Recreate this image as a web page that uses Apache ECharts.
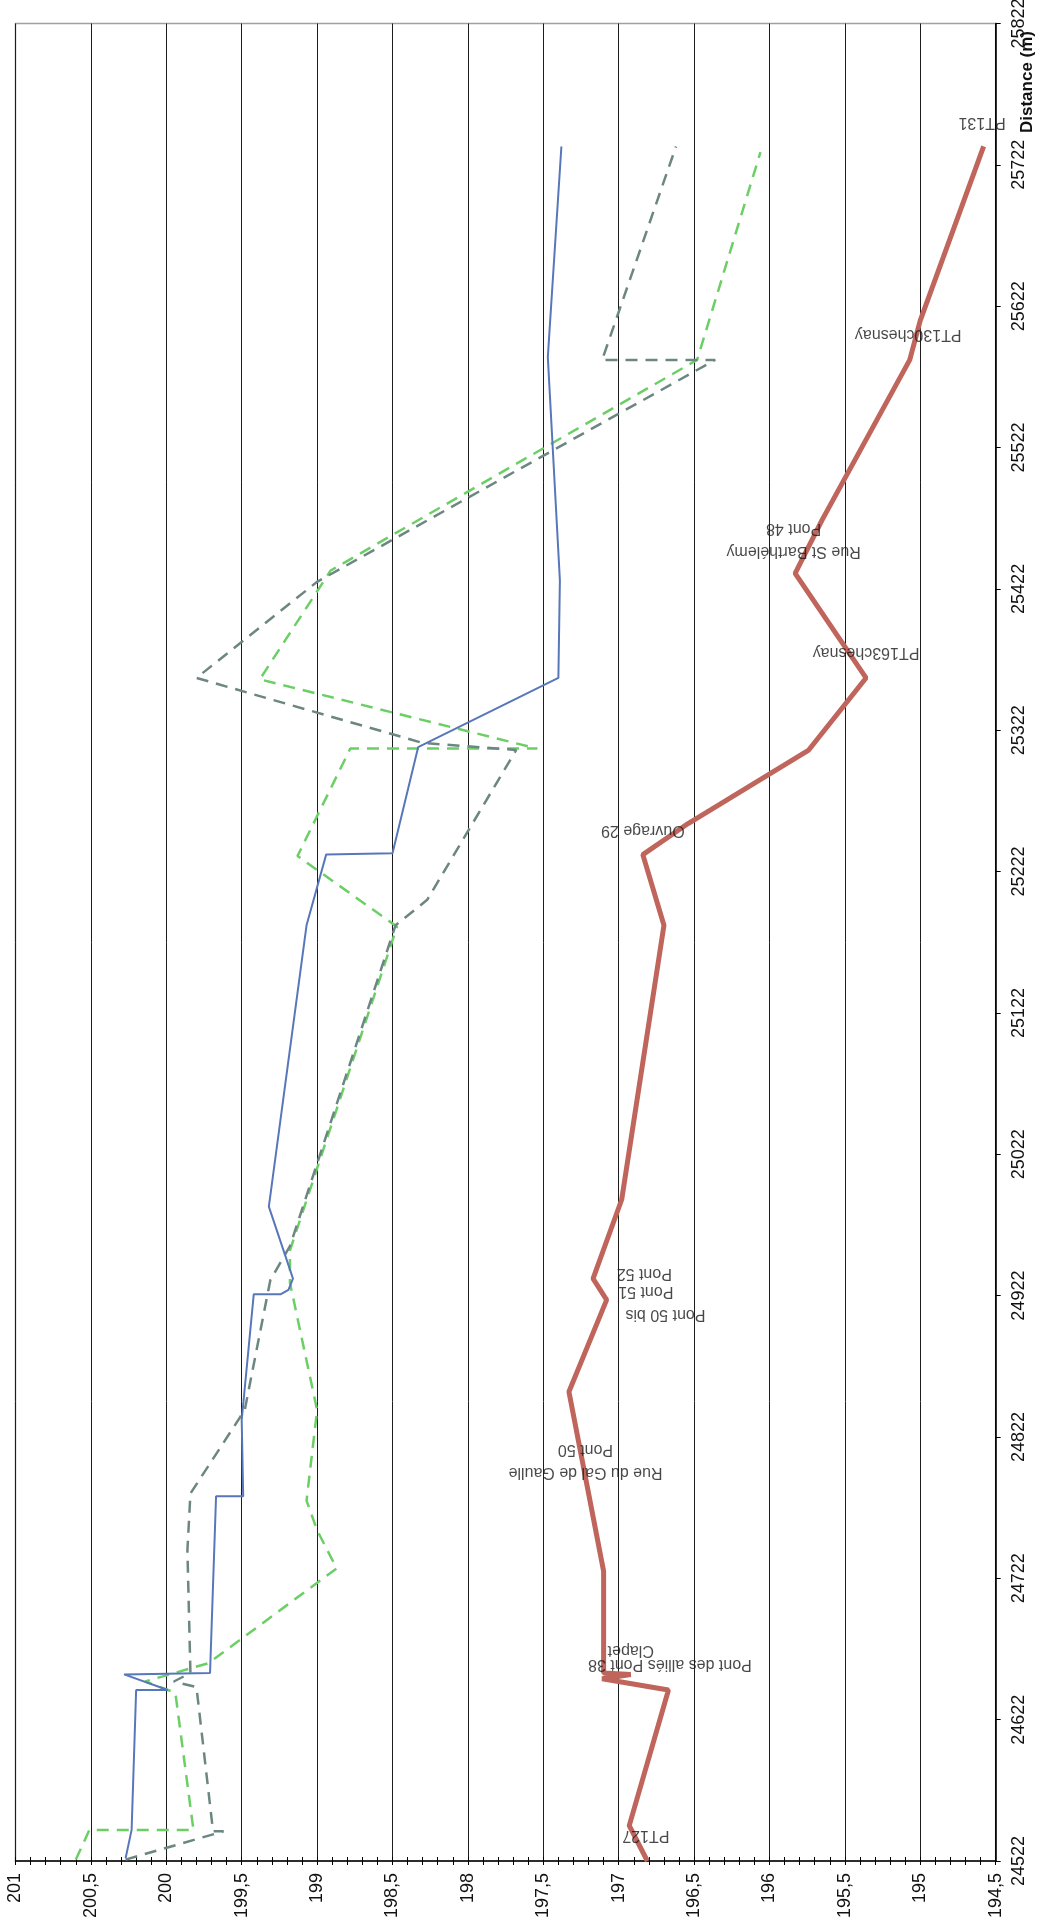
<!DOCTYPE html>
<html>
<head>
<meta charset="utf-8">
<script src="https://cdn.jsdelivr.net/npm/echarts@6/dist/echarts.min.js"></script>
<style>
  html, body { margin: 0; padding: 0; background: #ffffff; }
  #chart { width: 1045px; height: 1920px; }
</style>
</head>
<body>
<div id="chart"></div>
<script>
// Profil en long — distances (m) et cotes (m NGF)

// Axe des distances
const distMin = 24522;
const distMax = 25822;
const distStep = 100;
// Axe des cotes
const elevMin = 194.5;
const elevMax = 201;
const elevStep = 0.5;

// Radier (trait rouge épais)
const radierDist = [24522, 24547, 24643, 24651, 24654, 24655, 24727, 24854, 24919, 24934, 24990, 25184, 25234, 25256, 25308, 25359, 25433, 25471, 25584, 25612, 25735];
const radierElev = [196.81, 196.93, 196.67, 197.11, 196.92, 197.10, 197.10, 197.33, 197.08, 197.17, 196.98, 196.70, 196.84, 196.54, 195.74, 195.36, 195.83, 195.65, 195.07, 195.00, 194.58];

// Ligne bleue
const bleuDist = [24524, 24544, 24643, 24643, 24654, 24655, 24780, 24780, 24834, 24923, 24923, 24926, 24934, 24985, 25184, 25234, 25235, 25310, 25359, 25428, 25586, 25735];
const bleuElev = [200.27, 200.23, 200.20, 199.99, 200.28, 199.71, 199.67, 199.49, 199.50, 199.42, 199.24, 199.19, 199.16, 199.32, 199.07, 198.94, 198.50, 198.33, 197.40, 197.39, 197.47, 197.38];

// Ligne grise en tirets
const griseDist = [24523, 24543, 24543, 24645, 24649, 24655, 24742, 24782, 24841, 24933, 24957, 25184, 25202, 25308, 25313, 25359, 25427, 25584, 25584, 25735];
const griseElev = [200.27, 199.62, 199.69, 199.80, 199.95, 199.84, 199.86, 199.84, 199.48, 199.31, 199.18, 198.48, 198.27, 197.68, 198.30, 199.80, 199.00, 196.36, 197.11, 196.62];

// Ligne verte en tirets
const verteDist = [24523, 24544, 24544, 24641, 24649, 24662, 24729, 24756, 24777, 24841, 24931, 24954, 25183, 25233, 25309, 25309, 25358, 25435, 25584, 25731];
const verteElev = [200.60, 200.51, 199.82, 199.94, 200.14, 199.72, 198.87, 199.00, 199.07, 199.00, 199.18, 199.18, 198.47, 199.13, 198.78, 197.54, 199.38, 198.91, 196.48, 196.06];

// Repères (ouvrages, points topographiques)
const repereNoms = ['PT131', 'PT130chesnay', 'Rue St Barthélemy\nPont 48', 'PT163chesnay', 'Ouvrage 29', 'Pont 52', 'Pont 51', 'Pont 50 bis', 'Rue du Gal de Gaulle\nPont 50', 'Clapet', 'Pont des alliés Pont 38', 'PT127'];
const repereDist = [25752, 25602, 25457, 25377, 25251, 24938, 24925, 24909, 24805, 24671, 24661, 24540];
const repereElev = [194.59, 195.08, 195.84, 195.36, 196.84, 196.83, 196.82, 196.69, 197.22, 196.92, 196.66, 196.82];

const pairs = (elev, dist) => elev.map((v, i) => [v, dist[i]]);

const narrowFont = "'Liberation Sans Narrow', 'Arial Narrow', 'Liberation Sans', Arial, sans-serif";
const fmtComma = v => String(+v.toFixed(2)).replace('.', ',');
const fmtPlain = v => String(Math.round(v));

const chart = echarts.init(document.getElementById('chart'), null, { renderer: 'canvas' });

const option = {
  backgroundColor: '#ffffff',
  animation: false,
  grid: {
    left: 15.5, right: 49.3, top: 23.5, bottom: 59,
    show: true, borderColor: '#a0a0a0', borderWidth: 1.5,
    containLabel: false, outerBoundsMode: 'none'
  },
  xAxis: [
    {
      type: 'value', position: 'bottom', inverse: true,
      min: elevMin, max: elevMax, interval: elevStep,
      axisLine: { show: true, onZero: false, lineStyle: { color: '#000', width: 1.5 } },
      axisTick: { show: true, inside: false, length: 4, lineStyle: { color: '#000', width: 1 } },
      minorTick: { show: true, splitNumber: 5, length: 4, lineStyle: { color: '#000', width: 1 } },
      axisLabel: {
        rotate: 90, margin: 12, color: '#111', fontSize: 18, fontFamily: narrowFont,
        formatter: fmtComma
      },
      splitLine: { show: true, lineStyle: { color: '#1c1c1c', width: 1 } }
    },
    {
      type: 'value', position: 'bottom', inverse: true,
      min: elevMin, max: elevMax, interval: elevStep,
      axisLine: { show: false },
      axisTick: { show: true, inside: true, length: 4, lineStyle: { color: '#000', width: 1 } },
      minorTick: { show: true, splitNumber: 5, length: 4, lineStyle: { color: '#000', width: 1 } },
      axisLabel: { show: false },
      splitLine: { show: false }
    }
  ],
  yAxis: {
    type: 'value', position: 'right',
    min: distMin, max: distMax, interval: distStep,
    axisLine: { show: true, onZero: false, lineStyle: { color: '#000', width: 1.5 } },
    axisTick: { show: true, inside: false, length: 5, lineStyle: { color: '#000', width: 1 } },
    axisLabel: { rotate: 90, margin: 14, color: '#111', fontSize: 18, fontFamily: narrowFont, formatter: fmtPlain },
    splitLine: { show: false }
  },
  series: [
    {
      name: 'verte', type: 'line', data: pairs(verteElev, verteDist),
      symbol: 'none', z: 3,
      lineStyle: { color: '#6ccf66', width: 2.5, type: [12, 8] }
    },
    {
      name: 'grise', type: 'line', data: pairs(griseElev, griseDist),
      symbol: 'none', z: 4,
      lineStyle: { color: '#6c8682', width: 2.5, type: [12, 8] }
    },
    {
      name: 'bleue', type: 'line', data: pairs(bleuElev, bleuDist),
      symbol: 'none', z: 5,
      lineStyle: { color: '#5877ba', width: 2 }
    },
    {
      name: 'radier', type: 'line', data: pairs(radierElev, radierDist),
      symbol: 'none', z: 6,
      lineStyle: { color: '#c0655c', width: 5 }
    },
    {
      name: 'repères', type: 'scatter', z: 7,
      data: repereNoms.map((n, i) => ({ value: [repereElev[i], repereDist[i]], name: n })),
      symbolSize: 1, itemStyle: { color: 'rgba(0,0,0,0)' },
      label: {
        show: true, position: 'inside', rotate: 180,
        align: 'center', verticalAlign: 'middle',
        formatter: p => p.name,
        color: '#1a1a1a', fontSize: 16, lineHeight: 23,
        fontFamily: "'Liberation Sans', Arial, sans-serif"
      },
      silent: true
    }
  ],
  graphic: [
    {
      type: 'text', x: 1027, y: 82, rotation: Math.PI / 2,
      style: {
        text: 'Distance (m)', fill: '#111',
        font: "bold 17px 'Liberation Sans', Arial, sans-serif",
        textAlign: 'center', textVerticalAlign: 'middle'
      }
    }
  ]
};

chart.setOption(option);
</script>
</body>
</html>
